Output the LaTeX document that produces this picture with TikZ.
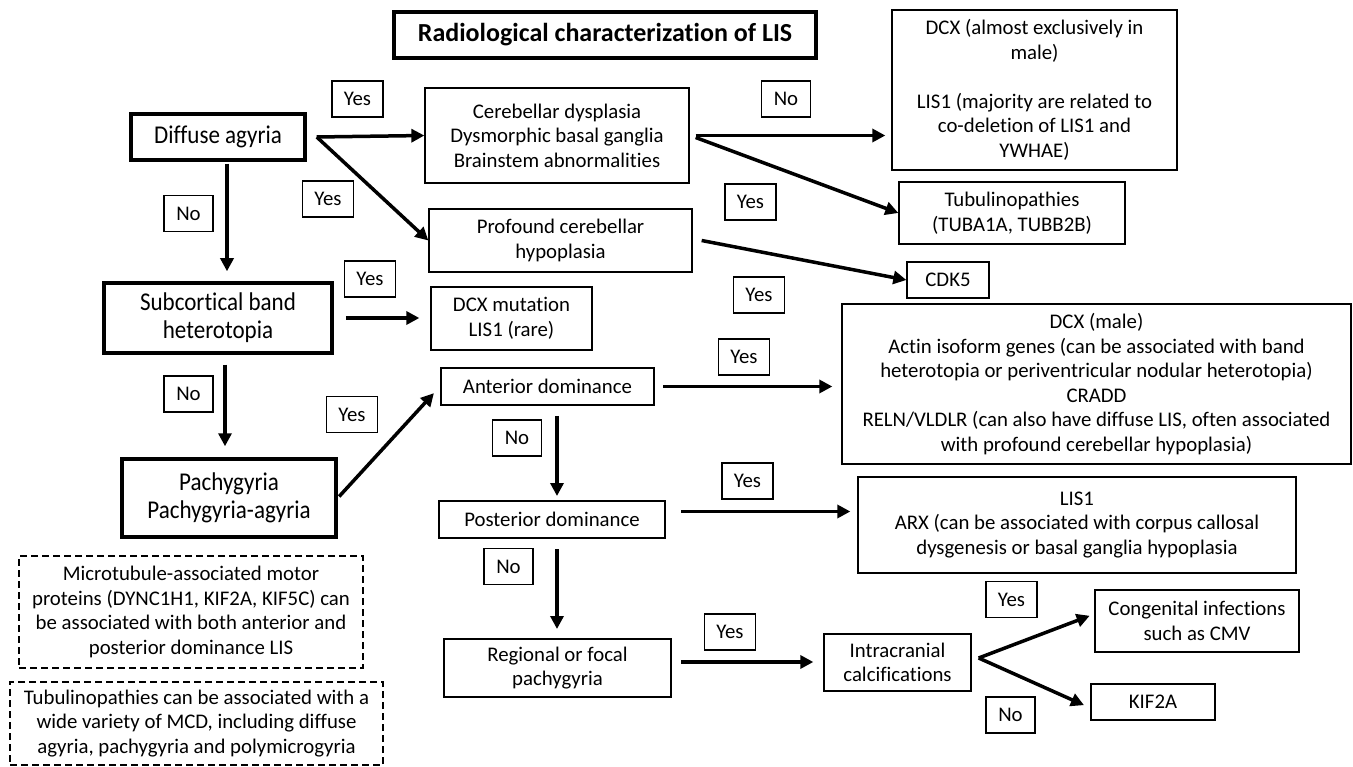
\documentclass[tikz,border=0pt]{standalone}
\usepackage{fontspec}
\setmainfont{Carlito}[Ligatures=NoCommon]
\newfontfamily\tallfamily{Carlito}[Ligatures=NoCommon,FakeStretch=0.9]
\usepackage{tikz}
\usetikzlibrary{arrows.meta}

\newcommand{\smallfont}{\fontsize{20.8}{24.5}\selectfont}
\newcommand{\bigfont}{\tallfamily\fontsize{25.6}{28}\selectfont}

\begin{document}
\begin{tikzpicture}
  [x=1pt,y=-1pt,
   titlebox/.style={draw,line width=3.5pt,inner sep=0pt,font=\fontsize{26}{30}\selectfont\bfseries},
   mainbox/.style={draw,line width=3.5pt,inner sep=0pt,align=center,font=\bigfont},
   midbox/.style={draw,line width=2pt,inner sep=0pt,align=center,font=\smallfont},
   thinbox/.style={draw,line width=1.3pt,inner sep=0pt,align=center,font=\smallfont},
   notebox/.style={draw,line width=1.3pt,dash pattern=on 7pt off 4pt,inner sep=0pt,align=center,font=\smallfont},
   lbl/.style={draw,line width=1.2pt,inner sep=0pt,minimum height=36pt,font=\smallfont},
   arr/.style={line width=3.5pt,-{Triangle[length=13pt,width=13pt]}}]

  \useasboundingbox (0,0) rectangle (1353,767);

  \node[titlebox,minimum width=422pt,minimum height=46pt] (title) at (605,35) {Radiological characterization of LIS};

  % left column
  \node[mainbox,minimum width=174pt,minimum height=46pt] (diffuse) at (218,137) {Diffuse agyria};
  \node[mainbox,minimum width=228pt,minimum height=70pt] (subcort) at (218,318) {Subcortical band\\heterotopia};
  \node[mainbox,minimum width=214pt,minimum height=78pt] (pachy) at (229,498) {Pachygyria\\Pachygyria-agyria};
  \node[notebox,minimum width=344pt,minimum height=112pt] (note1) at (191,612)
    {Microtubule-associated motor\\proteins (DYNC1H1, KIF2A, KIF5C) can\\be associated with both anterior and\\posterior dominance LIS};
  \node[notebox,minimum width=373pt,minimum height=83pt] (note2) at (196.5,723.5)
    {Tubulinopathies can be associated with a\\wide variety of MCD, including diffuse\\agyria, pachygyria and polymicrogyria};

  % middle column
  \node[thinbox,minimum width=264pt,minimum height=95pt] (cereb) at (557,135.5) {Cerebellar dysplasia\\Dysmorphic basal ganglia\\Brainstem abnormalities};
  \node[thinbox,minimum width=263pt,minimum height=63pt] (profound) at (560.5,240.5) {Profound cerebellar\\hypoplasia};
  \node[thinbox,minimum width=161pt,minimum height=63pt] (dcxmut) at (511.5,318.5) {DCX mutation\\LIS1 (rare)};
  \node[midbox,minimum width=213pt,minimum height=37pt] (anterior) at (547.5,386.5) {Anterior dominance};
  \node[midbox,minimum width=226pt,minimum height=37pt] (posterior) at (552,519.5) {Posterior dominance};
  \node[midbox,minimum width=227pt,minimum height=58pt] (regional) at (557.5,668) {Regional or focal\\pachygyria};

  % right column
  \node[thinbox,minimum width=285pt,minimum height=160pt] (dcxmale) at (1034.5,90)
    {DCX (almost exclusively in\\male)\\[24.5pt]LIS1 (majority are related to\\co-deletion of LIS1 and\\YWHAE)};
  \node[thinbox,minimum width=226pt,minimum height=62pt] (tubul) at (1012,213) {Tubulinopathies\\(TUBA1A, TUBB2B)};
  \node[thinbox,minimum width=82pt,minimum height=36pt] (cdk5) at (948,280) {CDK5};
  \node[thinbox,minimum width=509pt,minimum height=160pt] (actin) at (1096.5,384)
    {DCX (male)\\Actin isoform genes (can be associated with band\\heterotopia or periventricular nodular heterotopia)\\CRADD\\RELN/VLDLR (can also have diffuse LIS, often associated\\with profound cerebellar hypoplasia)};
  \node[thinbox,minimum width=438pt,minimum height=96pt] (arx) at (1077,525)
    {LIS1\\ARX (can be associated with corpus callosal\\dysgenesis or basal ganglia hypoplasia};
  \node[thinbox,minimum width=147pt,minimum height=57pt] (calc) at (897.5,662.5) {Intracranial\\calcifications};
  \node[thinbox,minimum width=204pt,minimum height=62pt] (cmv) at (1197,621) {Congenital infections\\such as CMV};
  \node[thinbox,minimum width=124pt,minimum height=36pt] (kif) at (1153,702) {KIF2A};

  % yes / no labels
  \node[lbl,minimum width=51pt] (y1) at (357.5,99) {Yes};
  \node[lbl,minimum width=49pt] (n1) at (786,99) {No};
  \node[lbl,minimum width=51pt] (y2) at (328,199) {Yes};
  \node[lbl,minimum width=51pt] (y3) at (750.5,202) {Yes};
  \node[lbl,minimum width=49pt] (n2) at (188.5,213.5) {No};
  \node[lbl,minimum width=51pt] (y4) at (370,279) {Yes};
  \node[lbl,minimum width=51pt] (y5) at (759,295) {Yes};
  \node[lbl,minimum width=51pt] (y6) at (744,357) {Yes};
  \node[lbl,minimum width=49pt] (n3) at (188.5,394) {No};
  \node[lbl,minimum width=51pt] (y7) at (352,414.5) {Yes};
  \node[lbl,minimum width=49pt] (n4) at (517,438) {No};
  \node[lbl,minimum width=51pt] (y8) at (747.5,481) {Yes};
  \node[lbl,minimum width=49pt] (n5) at (508.5,566.5) {No};
  \node[lbl,minimum width=51pt] (y9) at (730,632) {Yes};
  \node[lbl,minimum width=51pt] (y10) at (1011.5,599.5) {Yes};
  \node[lbl,minimum width=49pt] (n6) at (1010.5,715) {No};

  % arrows
  \draw[arr] ([xshift=10pt]diffuse.east) -- (cereb.west);
  \draw[arr] ([xshift=10pt]diffuse.east) -- (profound.west);
  \draw[arr,shorten >=6pt] ([xshift=6pt]cereb.east) -- (cereb.east -| dcxmale.west);
  \draw[arr] ([xshift=6pt,yshift=-2pt]cereb.east) -- (tubul.west);
  \draw[arr] ([xshift=9pt]profound.east) -- (cdk5.west);
  \draw[arr,shorten <=2pt,shorten >=10pt] ([xshift=9pt]diffuse.south) -- ([xshift=9pt]subcort.north);
  \draw[arr,shorten <=12pt,shorten >=11pt] (subcort.east) -- (subcort.east -| dcxmut.west);
  \draw[arr,shorten <=10pt,shorten >=11pt] ([xshift=7pt]subcort.south) -- ([xshift=7pt]subcort.south |- pachy.north);
  \draw[arr,shorten <=2pt,shorten >=9pt] (pachy.east) -- (anterior.west);
  \draw[arr,shorten <=8pt,shorten >=9pt] (anterior.east) -- (anterior.east -| actin.west);
  \draw[arr,shorten <=10pt,shorten >=4pt] ([xshift=9.5pt]anterior.south) -- ([xshift=9.5pt]anterior.south |- posterior.north);
  \draw[arr,shorten <=15pt,shorten >=7pt] ([yshift=8pt]posterior.east) -- ([yshift=8pt]posterior.east -| arx.west);
  \draw[arr,shorten <=10pt,shorten >=9pt] ([xshift=5pt]posterior.south) -- ([xshift=5pt]posterior.south |- regional.north);
  \draw[arr,shorten <=9pt,shorten >=10pt] ([yshift=6pt]regional.east) -- ([yshift=6pt]regional.east -| calc.west);
  \draw[arr,shorten >=5pt] ([xshift=7pt,yshift=4.5pt]calc.east) -- ([yshift=7pt]cmv.west);
  \draw[arr,shorten >=7pt] ([xshift=7pt,yshift=4.5pt]calc.east) -- ([yshift=-6pt]kif.west);
\end{tikzpicture}
\end{document}
